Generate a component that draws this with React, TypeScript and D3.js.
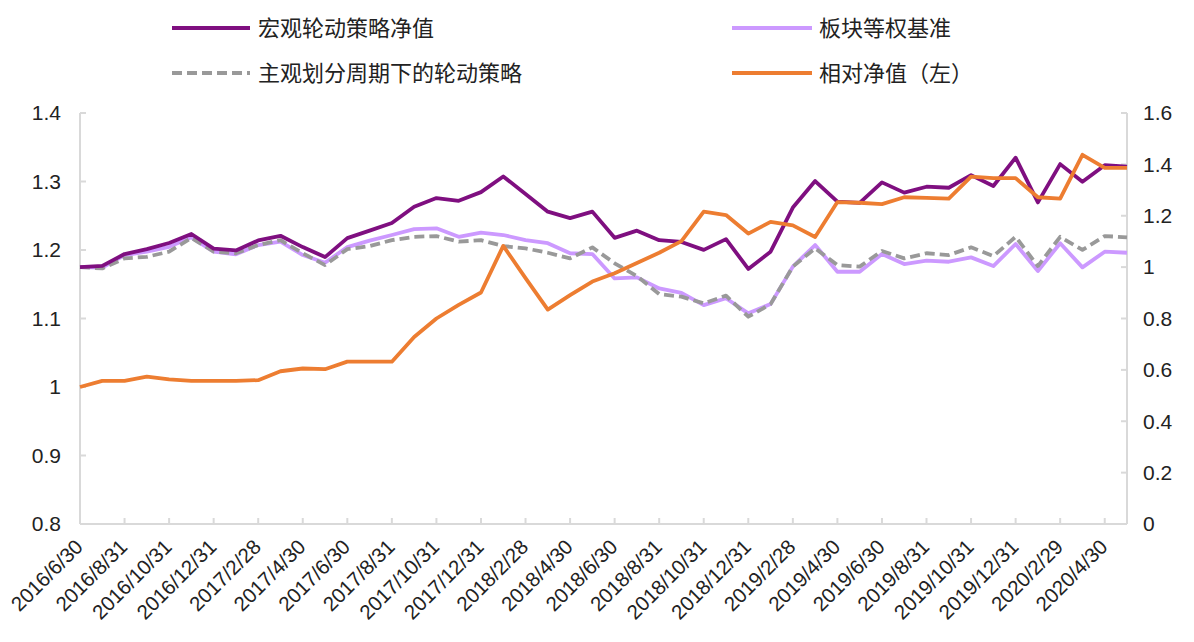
import React from "react";
import * as d3 from "d3";

const months: string[] = [
  "2016/6/30","2016/7/31","2016/8/31","2016/9/30","2016/10/31","2016/11/30","2016/12/31",
  "2017/1/31","2017/2/28","2017/3/31","2017/4/30","2017/5/31","2017/6/30","2017/7/31","2017/8/31",
  "2017/9/30","2017/10/31","2017/11/30","2017/12/31","2018/1/31","2018/2/28","2018/3/31","2018/4/30",
  "2018/5/31","2018/6/30","2018/7/31","2018/8/31","2018/9/30","2018/10/31","2018/11/30","2018/12/31",
  "2019/1/31","2019/2/28","2019/3/31","2019/4/30","2019/5/31","2019/6/30","2019/7/31","2019/8/31",
  "2019/9/30","2019/10/31","2019/11/30","2019/12/31","2020/1/31","2020/2/29","2020/3/31","2020/4/30",
  "2020/5/31",
];

// right axis
const macroRotation: number[] = [
  1.0, 1.005, 1.051, 1.07, 1.094, 1.129, 1.072, 1.065, 1.104, 1.122, 1.078, 1.039,
  1.113, 1.142, 1.172, 1.235, 1.269, 1.258, 1.292, 1.353, 1.285, 1.216, 1.191, 1.216,
  1.114, 1.142, 1.105, 1.098, 1.067, 1.109, 0.993, 1.06, 1.232, 1.335, 1.255, 1.25,
  1.33, 1.29, 1.313, 1.309, 1.358, 1.316, 1.426, 1.252, 1.401, 1.332, 1.397, 1.391,
];
const sectorEqual: number[] = [
  1.0, 0.998, 1.047, 1.06, 1.079, 1.116, 1.06, 1.05, 1.086, 1.099, 1.047, 1.017,
  1.078, 1.103, 1.125, 1.148, 1.151, 1.118, 1.134, 1.125, 1.105, 1.093, 1.054, 1.051,
  0.956, 0.96, 0.917, 0.9, 0.852, 0.879, 0.82, 0.856, 1.002, 1.086, 0.982, 0.982,
  1.051, 1.012, 1.025, 1.021, 1.038, 1.004, 1.09, 0.985, 1.093, 0.999, 1.06, 1.056,
];
const subjectiveCycle: number[] = [
  1.0, 0.995, 1.034, 1.04, 1.06, 1.114, 1.06, 1.054, 1.086, 1.105, 1.054, 1.008,
  1.07, 1.082, 1.105, 1.118, 1.121, 1.099, 1.105, 1.082, 1.073, 1.056, 1.034, 1.077,
  1.015, 0.965, 0.895, 0.885, 0.859, 0.889, 0.807, 0.856, 1.002, 1.073, 1.008, 1.002,
  1.063, 1.034, 1.054, 1.047, 1.077, 1.043, 1.118, 1.004, 1.118, 1.067, 1.121, 1.116,
];
// left axis
const relativeNav: number[] = [
  1.0, 1.009, 1.009, 1.015, 1.011, 1.009, 1.009, 1.009, 1.01, 1.023, 1.027, 1.026,
  1.037, 1.037, 1.037, 1.073, 1.1, 1.12, 1.138, 1.206, 1.159, 1.113, 1.134, 1.154,
  1.166, 1.181, 1.196, 1.213, 1.256, 1.251, 1.224, 1.241, 1.236, 1.219, 1.27, 1.269,
  1.267, 1.277, 1.276, 1.275, 1.307, 1.305, 1.305, 1.277, 1.275, 1.339, 1.32, 1.32,
];

const leftTicks: number[] = [0.8, 0.9, 1.0, 1.1, 1.2, 1.3, 1.4];
const leftTickLabels: string[] = ["0.8", "0.9", "1", "1.1", "1.2", "1.3", "1.4"];
const rightTicks: number[] = [0, 0.2, 0.4, 0.6, 0.8, 1.0, 1.2, 1.4, 1.6];
const rightTickLabels: string[] = ["0", "0.2", "0.4", "0.6", "0.8", "1", "1.2", "1.4", "1.6"];

const seriesNames = {
  macro: "宏观轮动策略净值",
  sector: "板块等权基准",
  subjective: "主观划分周期下的轮动策略",
  relative: "相对净值（左）",
};

const COLORS = {
  macro: "#7F0F80",
  sector: "#CC99FF",
  subjective: "#999999",
  relative: "#ED7D31",
  axis: "#D9D9D9",
  text: "#222222",
};

const FONT = "'Liberation Sans', Arial, 'Noto Sans CJK SC', sans-serif";

export default function App() {
  const W = 1194, H = 642;
  const x0 = 80, x1 = 1127, yTop = 113, yBot = 524;

  const x = d3.scalePoint<string>().domain(months).range([x0, x1]);
  const yL = d3.scaleLinear().domain([0.8, 1.4]).range([yBot, yTop]);
  const yR = d3.scaleLinear().domain([0, 1.6]).range([yBot, yTop]);

  const lineR = d3.line<number>().x((_, i) => x(months[i]) as number).y((d) => yR(d));
  const lineL = d3.line<number>().x((_, i) => x(months[i]) as number).y((d) => yL(d));

  const labelMonths = months.filter((_, i) => i % 2 === 0);

  return (
    <svg width={W} height={H} style={{ position: "absolute", left: 0, top: 0, background: "#fff" }} fontFamily={FONT}>
      {/* axes */}
      <line x1={x0} x2={x0} y1={yTop} y2={yBot} stroke={COLORS.axis} strokeWidth={2} />
      <line x1={x1} x2={x1} y1={yTop} y2={yBot} stroke={COLORS.axis} strokeWidth={2} />
      <line x1={x0} x2={x1} y1={yBot} y2={yBot} stroke={COLORS.axis} strokeWidth={2} />
      {leftTicks.map((t, i) => (
        <g key={"l" + i}>
          <line x1={x0} x2={x0 + 6} y1={yL(t)} y2={yL(t)} stroke={COLORS.axis} strokeWidth={2} />
          <text x={61} y={yL(t)} dy="0.35em" textAnchor="end" fontSize={21} fill={COLORS.text}>
            {leftTickLabels[i]}
          </text>
        </g>
      ))}
      {rightTicks.map((t, i) => (
        <g key={"r" + i}>
          <line x1={x1 - 6} x2={x1} y1={yR(t)} y2={yR(t)} stroke={COLORS.axis} strokeWidth={2} />
          <text x={1143} y={yR(t)} dy="0.35em" textAnchor="start" fontSize={21} fill={COLORS.text}>
            {rightTickLabels[i]}
          </text>
        </g>
      ))}
      {labelMonths.map((m, i) => {
        const px = x(m) as number;
        return (
          <g key={"x" + i}>
            {i > 0 && <line x1={px} x2={px} y1={yBot - 6} y2={yBot} stroke={COLORS.axis} strokeWidth={2} />}
            <text
              transform={`translate(${px - 1},${yBot + 19}) rotate(-45)`}
              textAnchor="end"
              dy="0.35em"
              fontSize={20.5}
              fill={COLORS.text}
            >
              {m}
            </text>
          </g>
        );
      })}

      {/* series */}
      <path d={lineR(sectorEqual) || ""} fill="none" stroke={COLORS.sector} strokeWidth={3.8} strokeLinejoin="round" />
      <path d={lineR(subjectiveCycle) || ""} fill="none" stroke={COLORS.subjective} strokeWidth={3.8} strokeDasharray="10,5" strokeLinejoin="round" />
      <path d={lineR(macroRotation) || ""} fill="none" stroke={COLORS.macro} strokeWidth={3.8} strokeLinejoin="round" />
      <path d={lineL(relativeNav) || ""} fill="none" stroke={COLORS.relative} strokeWidth={3.8} strokeLinejoin="round" />

      {/* legend */}
      <g fontSize={22} fill={COLORS.text}>
        <line x1={172} x2={250} y1={28} y2={28} stroke={COLORS.macro} strokeWidth={4} />
        <text x={258} y={28} dy="0.35em">{seriesNames.macro}</text>
        <line x1={172} x2={250} y1={73} y2={73} stroke={COLORS.subjective} strokeWidth={4} strokeDasharray="10,5" />
        <text x={258} y={73} dy="0.35em">{seriesNames.subjective}</text>
        <line x1={732} x2={812} y1={28} y2={28} stroke={COLORS.sector} strokeWidth={4} />
        <text x={819} y={28} dy="0.35em">{seriesNames.sector}</text>
        <line x1={732} x2={812} y1={73} y2={73} stroke={COLORS.relative} strokeWidth={4} />
        <text x={819} y={73} dy="0.35em">{seriesNames.relative}</text>
      </g>
    </svg>
  );
}
